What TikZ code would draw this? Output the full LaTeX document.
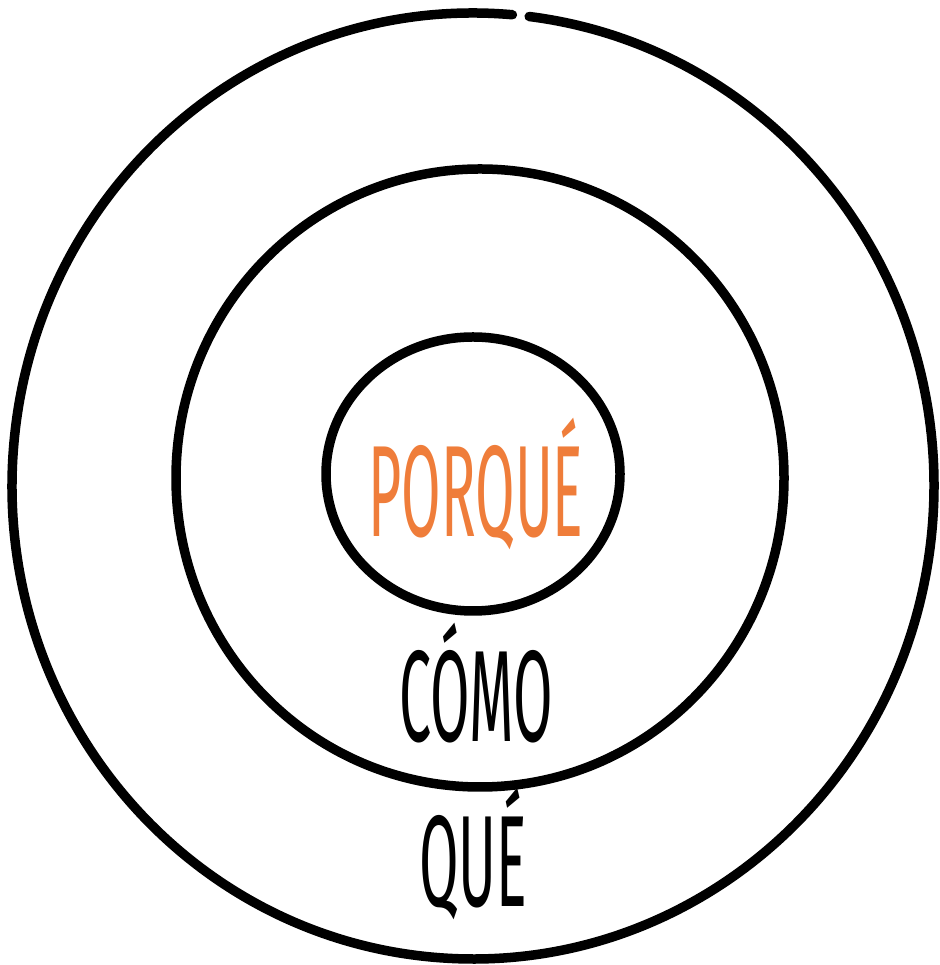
\documentclass[tikz,border=0pt]{standalone}
\usepackage{fontspec}
\usetikzlibrary{shapes.geometric}
\setmainfont{Fira Sans}
\definecolor{whyorange}{RGB}{239,125,58}
\begin{document}
\begin{tikzpicture}[x=1pt,y=1pt,
  ring/.style={line width=9.5pt,line cap=round,black},
  word/.style={font=\fontsize{130}{130}\selectfont,inner sep=0pt,anchor=base,xscale=0.44}]
\useasboundingbox (0,0) rectangle (939,965);
% outer ring with small gap at top
\coordinate (oc) at (473,479);
\draw[ring] ([shift={(85.1:461 and 473)}]oc) arc[start angle=85.1,end angle=443.0,x radius=461,y radius=473];
% middle ring
\node[ring,draw,ellipse,minimum width=608,minimum height=618,inner sep=0pt] (mid) at (480,487) {};
% inner ring
\node[ring,draw,ellipse,minimum width=294,minimum height=274,inner sep=0pt] (inn) at (473,491) {};
\node[word,text=whyorange] (why) at (476,428) {PORQUÉ};
\node[word] (how) at (476,223) {CÓMO};
\node[word] (what) at (473,58) {QUÉ};
\end{tikzpicture}
\end{document}
